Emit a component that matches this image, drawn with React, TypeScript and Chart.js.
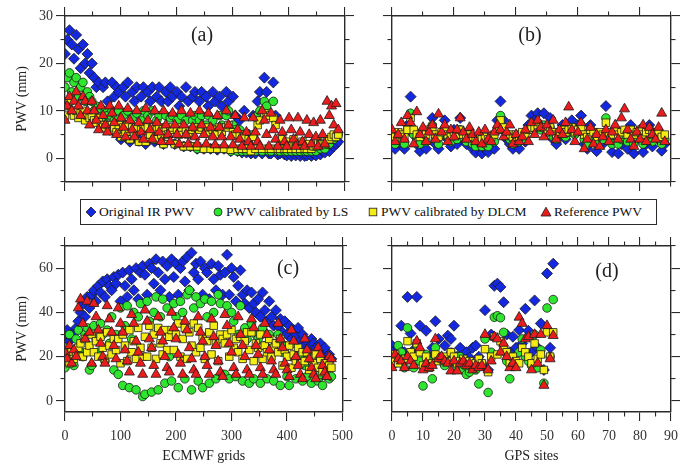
import React, { useEffect, useRef } from "react";
import { Chart, registerables } from "chart.js";

Chart.register(...registerables);

const FONT = '"Liberation Serif", "DejaVu Serif", "Times New Roman", serif';
const FRAME_COLOR = "#2a2a2a";
const MARKER_EDGE = "#1a1a1a";

const SERIES_NAMES = ["Original IR PWV", "PWV calibrated by LS", "PWV calibrated by DLCM", "Reference PWV"];
const SERIES_COLORS = ["#1428e0", "#2ee62e", "#f5ec14", "#ec1c1c"];
const SERIES_STYLES = ["rectRot", "circle", "rect", "triangle"];
const SERIES_RADII = [5.5, 4.3, 5.3, 5.8];

// ECMWF grid index step between stored samples
const GRID_SPACING = 4;

// ---------- panel (a): ECMWF grids, calibration period ----------
const A_IR = [
  22, 25, 27, 24, 21, 26, 23, 19, 24, 20, 22, 18,
  20, 17, 15, 16, 8, 15, 16, 12, 6, 16, 13, 15,
  14, 4, 15, 13, 16, 3.5, 14, 12, 15, 4, 13, 15,
  3, 14, 12, 15, 3.5, 13, 15, 12, 3, 14, 12, 15,
  13, 3, 14, 11, 13, 2.5, 15, 12, 2.5, 13, 14, 2,
  12, 14, 2, 13, 11, 2, 14, 12, 1.8, 13, 11, 2,
  14, 12, 1.5, 13, 9, 1.5, 8, 1.2, 10, 1.2, 5, 1,
  9, 1, 12, 14, 1, 17, 14, 1, 1, 16, 9, 0.8,
  1, 3, 0.8, 0.6, 2, 0.5, 3, 0.6, 1, 0.5, 2, 0.5,
  0.6, 2, 0.5, 1, 0.6, 2, 0.8, 1.5, 1.2, 2, 1.5, 3,
  2.5, 3, 3.5,
];
const A_LS = [
  15, 17, 18, 14, 16, 17, 13, 15, 16, 12, 14, 13,
  12, 10, 11, 9, 10.5, 8, 10, 9, 7, 10, 8, 9,
  10, 4.5, 9, 7, 10, 4, 8.5, 6, 9.5, 3.5, 8, 10,
  3.5, 9, 6, 10, 4, 8, 9, 5.5, 3, 9, 6, 8.5,
  9, 3, 8, 6, 9, 2.5, 8, 5.5, 2.5, 8, 9, 2,
  8, 9, 2, 7, 9, 2, 8, 6, 2, 9, 7, 2,
  9, 10, 1.5, 7, 6, 1.5, 6, 1.5, 5, 1.5, 4, 1.5,
  5, 1.5, 9, 10, 1.5, 12, 11, 1.5, 1.5, 12, 8, 1.5,
  1.5, 3.5, 1.5, 1.5, 3, 1.5, 3.5, 1.5, 2, 1.5, 3, 1.5,
  1.5, 2.5, 1.5, 2, 1.5, 3, 2, 2.5, 2, 3, 3, 4,
  4, 4.5, 5,
];
const A_DLCM = [
  9, 11, 12, 10, 9, 10, 8.5, 9.5, 10, 8, 9, 8.5,
  9, 8, 7.5, 8.5, 7, 7, 6.5, 7, 6, 7, 6.5, 5.5,
  7, 4.5, 6.5, 5.5, 7, 4, 6.5, 5, 6.5, 3.5, 6, 6.5,
  3.5, 6.5, 5, 6.5, 4, 6, 6.5, 5, 3, 6.5, 5, 6,
  6.5, 3, 6, 5, 6.5, 2.5, 6, 5, 2.5, 6, 6.5, 2.5,
  6, 6.5, 2, 5.5, 6.5, 2, 6, 5, 2, 6.5, 5.5, 2,
  6.5, 7, 1.8, 5.5, 5, 2, 5, 2, 4.5, 2, 4, 1.5,
  4.5, 2, 7, 8, 2, 9.5, 9, 2, 2, 8.5, 7, 2,
  2, 4, 2, 2, 3.5, 2, 4, 2, 3, 2, 3.5, 2,
  2, 3, 2, 2.5, 2.5, 3.5, 3, 3, 3, 4, 4, 4.5,
  5, 4.5, 5,
];
const A_REF = [
  8, 11, 13, 10, 12, 14, 11, 9, 13, 12, 10, 7,
  12, 10, 8, 6, 11, 9, 7, 5.5, 11, 9.5, 7.5, 5,
  11, 8.5, 6.5, 4.5, 10.5, 8, 6, 4.5, 10, 7.5, 5.5, 4,
  10.5, 8, 6, 4, 10, 7.5, 5.5, 3.5, 10, 7, 5, 3.5,
  9.5, 7, 5, 3, 10, 7, 5, 3, 9.5, 6.5, 4.5, 3,
  10, 7, 5, 3, 9.5, 6.5, 4.5, 2.8, 9, 6.5, 4.5, 2.8,
  10, 7, 4.5, 2.8, 9, 6, 4, 2.5, 8.5, 5.5, 3.5, 2.5,
  8.5, 5.5, 3.5, 2.5, 10, 8, 5, 2.5, 9.5, 6, 4, 2.5,
  8, 5.5, 3.5, 2.5, 8.5, 6, 4, 2.5, 8.5, 5.5, 3.5, 2.5,
  8, 5, 3, 7.5, 4.5, 2.5, 8, 5, 3, 12, 9, 11,
  7, 11.5, 6,
];

// ---------- panel (c): ECMWF grids, validation period ----------
const C_IR = [
  30, 32, 27, 29, 31, 33, 36, 40, 44, 38, 47, 42,
  48, 50, 45, 52, 49, 54, 47, 55, 52, 50, 56, 53,
  57, 45, 58, 52, 47, 59, 55, 50, 60, 46, 58, 61,
  57, 48, 62, 60, 53, 64, 58, 50, 63, 55, 61, 47,
  64, 56, 62, 48, 60, 63, 54, 65, 50, 67, 58, 62,
  55, 63, 48, 60, 58, 46, 62, 55, 50, 61, 57, 48,
  58, 66, 48, 60, 56, 45, 52, 59, 48, 44, 50, 42,
  49, 44, 40, 46, 38, 49, 41, 36, 45, 38, 34, 41,
  34, 37, 31, 36, 30, 34, 28, 32, 30, 33, 27, 30,
  25, 27, 24, 28, 26, 24, 25, 26, 22, 24, 20, 21,
  19,
];
const C_LS = [
  15, 24, 30, 18, 16, 28, 32, 22, 20, 30, 33, 14,
  16, 34, 28, 22, 35, 30, 18, 32, 26, 38, 14, 30,
  12, 42, 7, 34, 43, 6, 28, 40, 5, 38, 44, 2,
  3, 45, 36, 4, 40, 47, 5, 38, 46, 8, 42, 20,
  9, 44, 38, 6, 45, 40, 10, 48, 50, 5, 42, 47,
  9, 44, 6, 46, 38, 8, 45, 40, 10, 48, 44, 12,
  12, 43, 10, 40, 36, 11, 30, 43, 9, 33, 28, 8,
  35, 10, 30, 28, 8, 33, 25, 10, 30, 22, 9, 26,
  30, 7, 22, 25, 11, 7, 20, 26, 10, 18, 21, 9,
  16, 11, 20, 8, 15, 19, 9, 12, 7, 14, 11, 10,
  11,
];
const C_DLCM = [
  18, 20, 17, 22, 19, 21, 24, 26, 20, 28, 22, 25,
  30, 22, 27, 20, 29, 24, 19, 31, 25, 21, 28, 23,
  28, 17, 30, 25, 18, 32, 22, 27, 19, 33, 24, 20,
  29, 20, 34, 24, 30, 19, 33, 26, 21, 32, 23, 29,
  32, 23, 30, 35, 20, 28, 33, 19, 31, 25, 35, 22,
  33, 24, 29, 19, 27, 31, 21, 34, 26, 18, 30, 28,
  26, 30, 20, 32, 24, 28, 22, 29, 19, 27, 31, 23,
  31, 18, 26, 24, 30, 19, 25, 22, 28, 20, 24, 26,
  22, 28, 16, 23, 20, 25, 15, 21, 18, 24, 17, 22,
  18, 22, 14, 19, 17, 21, 15, 19, 13, 17, 15, 16,
  15,
];
const C_REF = [
  22, 19, 25, 17, 23, 20, 42, 46, 35, 28, 45, 31,
  17, 44, 38, 32, 26, 20, 17, 43, 37, 31, 25, 19,
  42, 35, 31, 23, 18, 13, 39, 35, 27, 22, 17, 12,
  41, 36, 28, 24, 16, 12, 38, 31, 27, 20, 15, 13,
  40, 33, 28, 21, 17, 12, 36, 32, 24, 19, 14, 12,
  38, 31, 27, 20, 16, 12, 37, 29, 25, 18, 13, 11,
  39, 34, 26, 22, 15, 12, 38, 30, 25, 20, 14, 12,
  37, 33, 25, 21, 15, 12, 35, 30, 23, 18, 14, 12,
  35, 28, 24, 17, 14, 11, 32, 27, 20, 16, 12, 10,
  28, 23, 19, 15, 12, 10, 24, 21, 16, 13, 11, 20,
  19,
];

// ---------- panel (b): GPS sites, calibration period ----------
const B_IR = [
  3, 2, 5, 3, 2, 7, 13, 5, 3, 1.5,
  4, 2, 6, 8.5, 3, 2, 5, 8, 4, 2.5,
  6, 3, 8.5, 4, 3, 5, 2, 1.2, 3, 1,
  2, 1.3, 4, 2, 8, 12, 8, 4, 3, 2,
  4, 2, 5, 3.5, 7, 9, 8, 9.5, 7, 9.5,
  6, 8.5, 4, 3, 5, 7, 4, 6, 8, 5,
  7, 9, 3, 2, 7, 4, 1.5, 5, 3, 11,
  4, 1.3, 6, 1, 3, 5, 2, 7, 1, 4,
  6, 1.3, 3, 7, 2.5, 5, 4, 1.6, 3,
];
const B_LS = [
  4, 3, 5, 4, 3, 6, 9.5, 5, 4, 3,
  5, 3.5, 6, 7, 4, 3, 5, 6, 4.5, 3.5,
  5, 4, 6, 4.5, 3.5, 5, 3, 2.5, 3.5, 2.5,
  3, 2.5, 4, 3.5, 6, 9, 6, 4.5, 4, 3,
  4.5, 3.5, 5, 4, 6, 7, 6.5, 7.5, 6, 7,
  5.5, 6.5, 4.5, 4, 5, 6, 4.5, 5.5, 6.5, 5,
  6, 7, 4, 3, 6, 4.5, 3, 5, 4, 8.5,
  4.5, 3, 5.5, 3, 4, 5, 3.5, 6, 3, 4.5,
  5.5, 3, 4, 6, 3.5, 5, 4.5, 3, 4,
];
const B_DLCM = [
  5, 4.5, 5.5, 5, 4.5, 6, 8.5, 6, 5, 4.5,
  5.5, 5, 6, 6.5, 5, 4.5, 5.5, 6, 5, 4.5,
  5.5, 5, 6, 5, 4.5, 5, 4.5, 4, 4.5, 4,
  4.5, 4, 4.5, 5, 6, 8, 6.5, 5, 5, 4.5,
  5, 4.5, 5.5, 5, 6, 6.5, 6.5, 7, 6.5, 6.5,
  6, 6.5, 5.5, 5, 5.5, 6, 5.5, 6, 6.5, 5.5,
  6, 6.5, 5, 4.5, 6, 5.5, 4.5, 5.5, 5, 7.5,
  5.5, 5, 6, 5, 5.5, 6, 5, 6, 5, 5.5,
  6, 5, 5.5, 6, 5, 5.5, 5.5, 4.5, 5,
];
const B_REF = [
  6, 3.5, 5, 7.5, 4, 9, 7.5, 3, 9.8, 5,
  6.5, 3.5, 5.5, 7, 4, 9.3, 5.5, 7, 3.5, 6,
  4.5, 6, 8.5, 5.5, 4, 6.5, 5, 3.5, 5.5, 3,
  6, 4, 3.5, 5.5, 7, 6, 4.5, 5.5, 7, 3,
  5, 3.5, 4.5, 6, 3.5, 7.5, 5, 8, 6.5, 4.5,
  7, 5.5, 8, 4, 6, 5, 7.5, 10.8, 6, 3.5,
  5.5, 7.5, 2, 4, 6.5, 3, 5, 2.5, 4.5, 6,
  3.5, 5.5, 7, 4, 8.5, 10.4, 6, 4, 2.5, 5.5,
  4, 7, 3.5, 6.5, 5, 4, 6.5, 9.5, 3.5,
];

// ---------- panel (d): GPS sites, validation period ----------
const D_IR = [
  25, 23, 24, 34, 22, 47, 30.5, 23, 47, 34,
  18, 31.7, 20, 24, 36, 28, 18, 25, 29.5, 28,
  34, 20, 24, 18, 22, 19.6, 24, 25, 20, 16,
  41, 14, 30, 52, 53, 51.5, 44.6, 30, 22, 29,
  24, 32, 26, 41.6, 31.7, 22, 45.4, 24, 35, 14,
  57.6, 24, 62,
];
const D_LS = [
  18, 17, 25, 22, 15, 33, 20, 15, 25, 18,
  6.8, 21, 18, 10, 24, 20, 18, 16, 19, 22,
  18, 15, 20, 14, 12, 13, 16, 14, 7.7, 17,
  28, 3.8, 22, 37.8, 38.5, 37.6, 31, 18, 10, 20,
  17, 22, 28, 20, 18, 16, 30, 15, 23, 8,
  42, 20, 45.8,
];
const D_DLCM = [
  18, 21, 17, 19, 19, 27, 22, 20, 26, 22,
  16, 20, 15, 17, 21, 18, 19, 20, 18, 22,
  20, 17, 18, 19, 16, 18, 15, 17, 19, 17,
  23.4, 13, 20, 29, 21, 27, 24, 22, 17, 20,
  18, 17, 24, 22, 20, 17, 26, 19, 21, 14,
  31, 20, 31,
];
const D_REF = [
  15, 21, 19, 18, 15, 20, 18, 16, 27, 24,
  14, 17, 15, 16, 28, 19, 20, 18, 17, 13.5,
  18, 13.5, 17, 18, 16, 17, 14, 16, 15, 16,
  30, 14, 18, 29, 28, 22, 26, 20, 15, 17,
  15, 37.8, 35, 28, 29, 14, 30, 17, 30, 7,
  34, 19, 29.5,
];

// ---------- ticks ----------
const X_GRID_MAJOR = [0, 100, 200, 300, 400, 500];
const X_GRID_MINOR = [50, 150, 250, 350, 450];
const X_SITE_MAJOR = [0, 10, 20, 30, 40, 50, 60, 70, 80, 90];
const X_SITE_MINOR = [5, 15, 25, 35, 45, 55, 65, 75, 85];
const X_SITE_B_MAJOR = [0, 20, 40, 60, 80];
const X_SITE_B_MINOR = [10, 30, 50, 70, 90];
const Y_TOP_MAJOR = [0, 10, 20, 30];
const Y_TOP_MINOR = [-5, 5, 15, 25];
const Y_BOT_MAJOR = [0, 20, 40, 60];
const Y_BOT_MINOR = [10, 30, 50, 70];

const gridIdx = (arr: number[]) => arr.map((_, i) => i * GRID_SPACING);
const siteIdx = (arr: number[]) => arr.map((_, i) => i);

type Panel = any;

const PANELS: Panel[] = [
  {
    tag: "(a)", tagPos: [137, 20],
    series: [A_IR, A_LS, A_DLCM, A_REF], xs: gridIdx(A_IR),
    box: { left: 0, top: 0, w: 360, h: 200 }, m: { l: 65, r: 15, t: 16, b: 18 },
    x: { min: 0, max: 500, major: X_GRID_MAJOR, minor: X_GRID_MINOR, labels: false, title: "" },
    y: { min: -5, max: 30, major: Y_TOP_MAJOR, minor: Y_TOP_MINOR, labels: true, title: "PWV (mm)" },
  },
  {
    tag: "(b)", tagPos: [138, 20],
    series: [B_IR, B_LS, B_DLCM, B_REF], xs: siteIdx(B_IR),
    box: { left: 350, top: 0, w: 347, h: 200 }, m: { l: 42, r: 26, t: 16, b: 18 },
    x: { min: 0, max: 90, major: X_SITE_B_MAJOR, minor: X_SITE_B_MINOR, labels: false, title: "" },
    y: { min: -5, max: 30, major: Y_TOP_MAJOR, minor: Y_TOP_MINOR, labels: false, title: "" },
  },
  {
    tag: "(c)", tagPos: [223, 23],
    series: [C_IR, C_LS, C_DLCM, C_REF], xs: gridIdx(C_IR),
    box: { left: 0, top: 230, w: 360, h: 238 }, m: { l: 65, r: 15, t: 16, b: 56 },
    x: { min: 0, max: 500, major: X_GRID_MAJOR, minor: X_GRID_MINOR, labels: true, title: "ECMWF grids" },
    y: { min: -5, max: 70, major: Y_BOT_MAJOR, minor: Y_BOT_MINOR, labels: true, title: "PWV (mm)" },
  },
  {
    tag: "(d)", tagPos: [215, 26],
    series: [D_IR, D_LS, D_DLCM, D_REF], xs: siteIdx(D_IR),
    box: { left: 350, top: 230, w: 347, h: 238 }, m: { l: 42, r: 26, t: 16, b: 56 },
    x: { min: 0, max: 90, major: X_SITE_MAJOR, minor: X_SITE_MINOR, labels: true, title: "GPS sites" },
    y: { min: -5, max: 70, major: Y_BOT_MAJOR, minor: Y_BOT_MINOR, labels: false, title: "" },
  },
];

const MAJOR_LEN = 9;
const MINOR_LEN = 4.5;

function makeAxis(axis: string, position: string, min: number, max: number, values: number[], len: number,
  weight: number, size: number, showLabels: boolean, title: string, border: boolean) {
  return {
    type: "linear",
    axis,
    position,
    min,
    max,
    weight,
    afterBuildTicks: (s: any) => {
      s.ticks = values.map((v) => ({ value: v }));
    },
    afterFit: (s: any) => {
      if (axis === "x") s.height = size;
      else s.width = size;
    },
    grid: {
      display: true,
      drawOnChartArea: false,
      drawTicks: true,
      tickLength: len,
      color: FRAME_COLOR,
      lineWidth: 1.1,
    },
    border: { display: border, color: FRAME_COLOR, width: 1.4 },
    ticks: {
      display: showLabels,
      autoSkip: false,
      maxRotation: 0,
      minRotation: 0,
      font: { family: FONT, size: 14 },
      color: "#333",
      padding: axis === "x" ? 7 : 3,
    },
    title: title
      ? {
          display: true,
          text: title,
          font: { family: FONT, size: 14 },
          color: "#222",
          padding: axis === "x" ? { top: 0, bottom: 3 } : { top: 14, bottom: 0 },
        }
      : { display: false },
  };
}

function buildConfig(p: Panel) {
  const scales: any = {
    x: makeAxis("x", "bottom", p.x.min, p.x.max, p.x.major, MAJOR_LEN, 1, p.m.b, p.x.labels, p.x.title, true),
    xMinor: makeAxis("x", "bottom", p.x.min, p.x.max, p.x.minor, MINOR_LEN, 0, 0, false, "", false),
    xTop: makeAxis("x", "top", p.x.min, p.x.max, p.x.major, MAJOR_LEN, 1, p.m.t, false, "", true),
    xTopMinor: makeAxis("x", "top", p.x.min, p.x.max, p.x.minor, MINOR_LEN, 0, 0, false, "", false),
    y: makeAxis("y", "left", p.y.min, p.y.max, p.y.major, MAJOR_LEN, 1, p.m.l, p.y.labels, p.y.title, true),
    yMinor: makeAxis("y", "left", p.y.min, p.y.max, p.y.minor, MINOR_LEN, 0, 0, false, "", false),
    yRight: makeAxis("y", "right", p.y.min, p.y.max, p.y.major, MAJOR_LEN, 1, p.m.r, false, "", true),
    yRightMinor: makeAxis("y", "right", p.y.min, p.y.max, p.y.minor, MINOR_LEN, 0, 0, false, "", false),
  };

  const datasets = p.series.map((vals: number[], si: number) => ({
    label: SERIES_NAMES[si],
    data: vals.map((v, i) => ({ x: p.xs[i], y: v })),
    pointStyle: SERIES_STYLES[si],
    pointRadius: SERIES_RADII[si],
    pointHoverRadius: SERIES_RADII[si],
    backgroundColor: SERIES_COLORS[si],
    borderColor: MARKER_EDGE,
    borderWidth: 0.8,
    showLine: false,
    order: 4 - si,
    xAxisID: "x",
    yAxisID: "y",
  }));

  const tagPlugin = {
    id: "panelTag",
    afterDraw(chart: any) {
      const { ctx, chartArea } = chart;
      ctx.save();
      ctx.font = `20px ${FONT}`;
      ctx.fillStyle = "#222";
      ctx.textAlign = "center";
      ctx.textBaseline = "middle";
      ctx.fillText(p.tag, chartArea.left + p.tagPos[0], chartArea.top + p.tagPos[1]);
      ctx.restore();
    },
  };

  return {
    type: "scatter",
    data: { datasets },
    options: {
      responsive: false,
      maintainAspectRatio: false,
      animation: false,
      devicePixelRatio: 1,
      events: [],
      layout: { padding: 0 },
      plugins: { legend: { display: false }, tooltip: { enabled: false }, title: { display: false } },
      scales,
    },
    plugins: [tagPlugin],
  };
}

function PanelChart({ p }: { p: Panel }) {
  const ref = useRef<HTMLCanvasElement | null>(null);
  useEffect(() => {
    const chart = new Chart(ref.current as HTMLCanvasElement, buildConfig(p) as any);
    return () => chart.destroy();
  }, [p]);
  return (
    <canvas
      ref={ref}
      width={p.box.w}
      height={p.box.h}
      style={{ position: "absolute", left: p.box.left, top: p.box.top, width: p.box.w, height: p.box.h, display: "block" }}
    />
  );
}

const LEGEND_ITEM_LEFT = [4, 131, 286, 459];

function Marker({ i }: { i: number }) {
  const fill = SERIES_COLORS[i];
  const common = { fill, stroke: MARKER_EDGE, strokeWidth: 0.8 };
  let shape: any;
  if (i === 0) shape = <polygon points="6,1 11,6 6,11 1,6" {...common} />;
  else if (i === 1) shape = <circle cx="6" cy="6" r="4" {...common} />;
  else if (i === 2) shape = <rect x="2.2" y="2.2" width="7.6" height="7.6" {...common} />;
  else shape = <polygon points="6,1.2 11,10 1,10" {...common} />;
  return (
    <svg width="12" height="12" viewBox="0 0 12 12" style={{ display: "block" }}>
      {shape}
    </svg>
  );
}

export default function App() {
  return (
    <div style={{ position: "absolute", left: 0, top: 0, width: 697, height: 468, background: "#fff", overflow: "hidden" }}>
      {PANELS.map((p) => (
        <PanelChart key={p.tag} p={p} />
      ))}
      <div
        style={{
          position: "absolute",
          left: 80,
          top: 199,
          width: 577,
          height: 26,
          border: `1.3px solid ${FRAME_COLOR}`,
          boxSizing: "border-box",
          background: "#fff",
        }}
      >
        {SERIES_NAMES.map((name, i) => (
          <div
            key={name}
            style={{
              position: "absolute",
              left: LEGEND_ITEM_LEFT[i],
              top: 0,
              height: "100%",
              display: "flex",
              alignItems: "center",
              whiteSpace: "nowrap",
              fontFamily: FONT,
              fontSize: 13.5,
              color: "#111",
            }}
          >
            <Marker i={i} />
            <span style={{ marginLeft: 2 }}>{name}</span>
          </div>
        ))}
      </div>
    </div>
  );
}
